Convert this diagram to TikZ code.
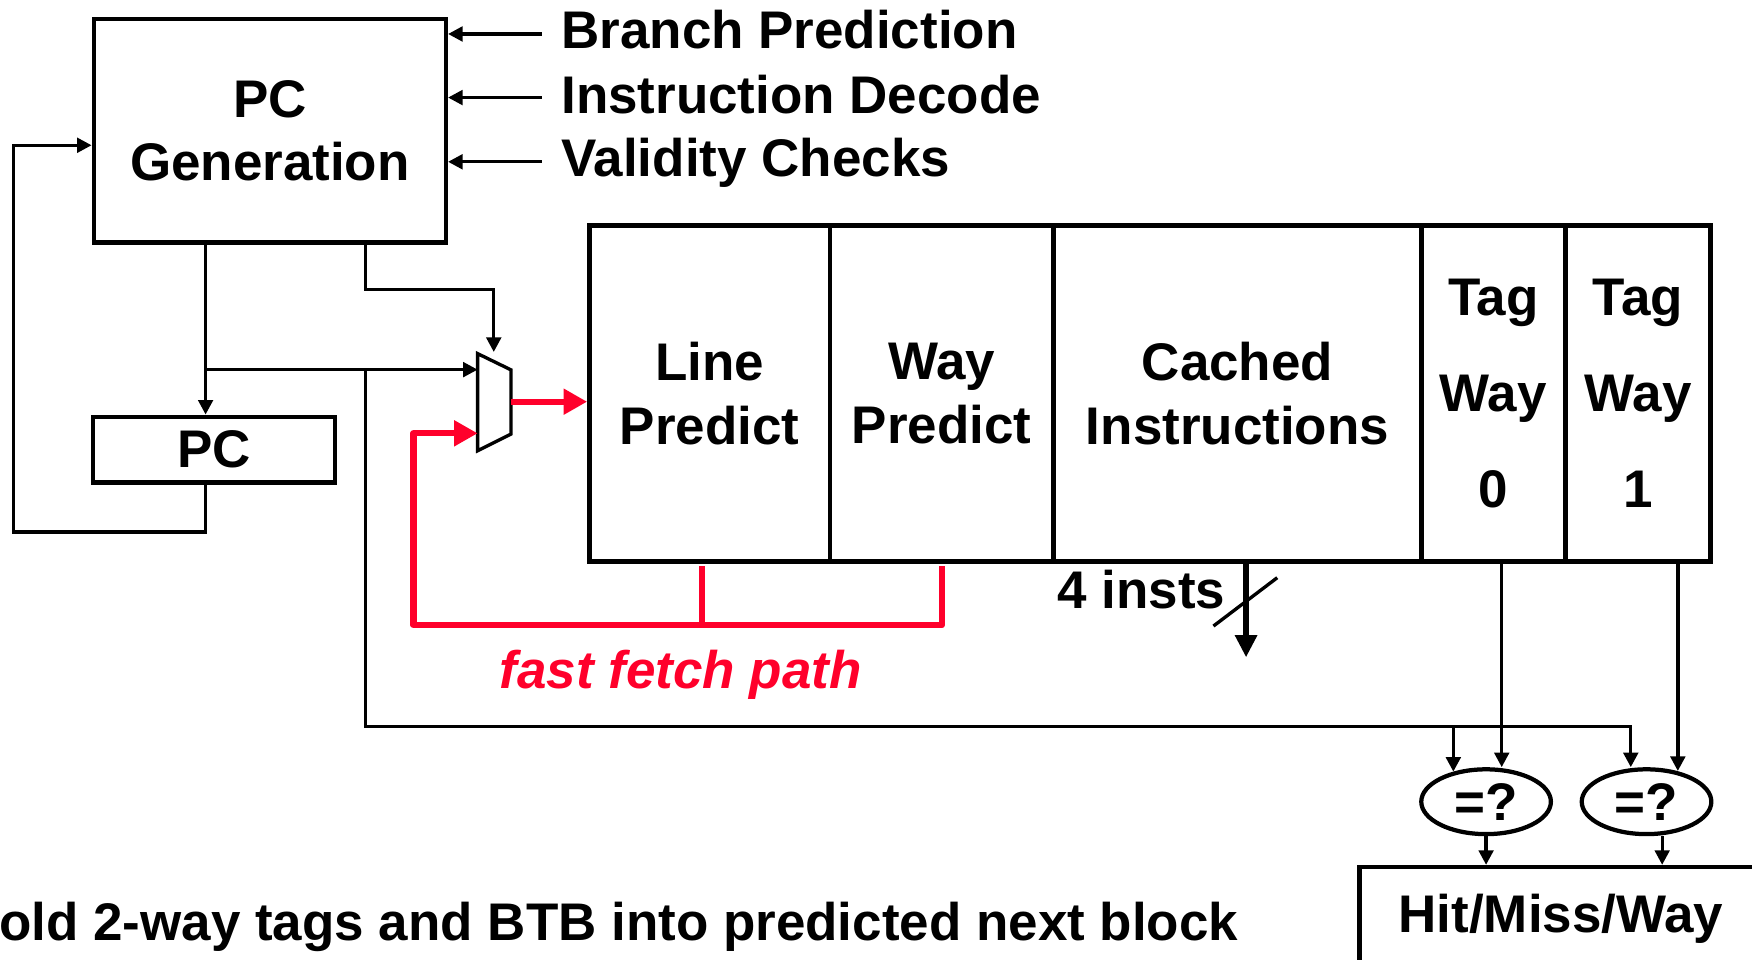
\documentclass[tikz,border=0pt]{standalone}
\usepackage{fontspec}
\setmainfont{Liberation Sans}
\usetikzlibrary{arrows.meta,shapes.geometric}
\definecolor{fastred}{RGB}{255,0,43}
\begin{document}
\begin{tikzpicture}[x=0.5pt,y=-0.5pt,
  txt/.style={font=\fontsize{23.7pt}{28.5pt}\selectfont\bfseries, inner sep=0pt},
  box/.style={txt, draw, line width=2pt, align=center},
  cell/.style={box, minimum height=150.35pt},
  wire/.style={line width=1.5pt},
  arr/.style={wire, -{Triangle[length=6.5pt,width=6.5pt]}},
  fastwire/.style={line width=2.8pt, fastred, line join=round},
  fastarr/.style={fastwire, -{Triangle[length=10.5pt,width=11pt]}},
  busarr/.style={line width=2.6pt, -{Triangle[length=10pt,width=9.5pt]}},
  cmp/.style={txt, draw, ellipse, line width=1.9pt, minimum width=58pt, minimum height=29pt}
]
\useasboundingbox (0,0) rectangle (1568,859);
\clip (0,0) rectangle (1568,859);

% PC generation and PC register
\node[box, minimum width=157.5pt, minimum height=100pt] (pcg) at (241.5,117) {PC\\Generation};
\node[box, minimum width=108.4pt, minimum height=29.5pt] (pc) at (191.6,402.5) {PC};

% inputs to PC generation
\node[txt, anchor=base west] (bp) at (502,43.5) {Branch Prediction};
\node[txt, anchor=base west] (id) at (502,101.5) {Instruction Decode};
\node[txt, anchor=base west] (vc) at (502,158.3) {Validity Checks};
\coordinate (bpi) at (484.7,30.4);
\coordinate (idi) at (484.7,87.3);
\coordinate (vci) at (484.7,144.8);
\draw[arr] (bpi) -- (bpi -| pcg.east);
\draw[arr] (idi) -- (idi -| pcg.east);
\draw[arr] (vci) -- (vci -| pcg.east);

% instruction cache line
\node[cell, minimum width=107.6pt] (lp) at (635.1,352.3) {Line\\Predict};
\node[cell, minimum width=100.15pt] (wp) at (842.85,352.3) {Way\\Predict};
\node[cell, minimum width=164.5pt] (ci) at (1107.5,352.3) {Cached\\Instructions};
\node[cell, minimum width=64.5pt] (t0) at (1336.5,352.3) {Tag\\[14.5pt]Way\\[14.5pt]0};
\node[cell, minimum width=65pt] (t1) at (1466,352.3) {Tag\\[14.5pt]Way\\[14.5pt]1};

% next-fetch multiplexer
\coordinate (muxA) at (427.5,316.5);
\coordinate (muxB) at (457.3,331);
\coordinate (muxC) at (457.3,388.5);
\coordinate (muxD) at (427.5,403.4);
\draw[line width=1.5pt, line join=miter] (muxA) -- (muxB) -- (muxC) -- (muxD) -- cycle;
\coordinate (mux0) at (427.5,330.8);
\coordinate (mux1) at (427.5,387.8);
\coordinate (muxo) at (457.3,359.5);
\coordinate (muxsel) at (441.9,315);

% PC paths
\coordinate (jpc) at (184,330.8);
\coordinate (jbus) at (327,330.8);
\coordinate (selc) at (327,258.8);
\coordinate (fb) at (12,130);
\draw[arr] (jpc |- pcg.south) -- (jpc |- pc.north);
\draw[arr] (jpc) -- (mux0);
\draw[arr] (jpc |- pc.south) -- ++(0,42) -| (fb) -- (fb -| pcg.west);
\draw[arr] (jbus |- pcg.south) -- (selc) -| (muxsel);

% comparators and result
\node[cmp] (c0) at (1330,717.5) {=?};
\node[cmp] (c1) at (1473.6,717.5) {=?};
\node[box, anchor=north west, minimum width=180.3pt, minimum height=46pt] (hit) at (1214.7,774) {Hit/Miss/Way};

\coordinate (busc) at (327,650);
\coordinate (bus0) at (1300.7,650);
\coordinate (bus1) at (1459.5,650);
\draw[arr] (jbus) -- (busc) -- (bus1) -- (bus1 |- c1.north);
\draw[arr, shorten >=-2pt] (bus0) -- (bus0 |- c0.north);

\coordinate (tg0) at ([xshift=3.75pt]t0.south);
\coordinate (tg1) at ([xshift=17.8pt]t1.south);
\draw[arr] (tg0) -- (tg0 |- c0.north);
\draw[arr, shorten >=-1.7pt] (tg1) -- (tg1 |- c1.north);

\coordinate (co1) at ([xshift=7pt]c1.south);
\draw[arr] (c0.south) -- (c0.south |- hit.north);
\draw[arr] (co1) -- (co1 |- hit.north);

% fetched instructions
\coordinate (ci4) at ([xshift=3.85pt]ci.south);
\coordinate (instout) at (1115.2,588.3);
\draw[busarr] (ci4) -- (instout);
\draw[wire] (1086,560.3) -- (1143.1,517);
\node[txt, anchor=base west] (ninst) at (946,544.5) {4 insts};

% fast fetch path
\coordinate (fl) at (628.3,559.4);
\coordinate (fw) at (843,559.4);
\coordinate (fc) at (370,559.4);
\draw[fastwire, shorten <=1pt] (fl |- lp.south) -- (fl);
\draw[fastarr, shorten <=1pt] (fw |- wp.south) -- (fw) -- (fc) |- (mux1);
\draw[fastarr] (muxo) -- (muxo -| lp.west);
\node[txt, text=fastred, anchor=base] (ffp) at (609.2,616) {\itshape fast fetch path};

% caption
\node[txt, anchor=base west] (note) at (-1,842) {old 2-way tags and BTB into predicted next block};
\end{tikzpicture}
\end{document}
